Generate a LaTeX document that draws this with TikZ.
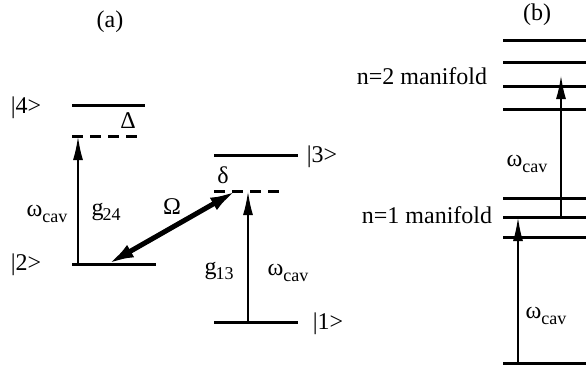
\documentclass[tikz,border=0pt]{standalone}
\usepackage{fontspec}
\setmainfont{Liberation Serif}
\usetikzlibrary{arrows.meta}
\newcommand{\lowsub}[1]{\raisebox{-0.5ex}{\fontsize{18}{18}\selectfont #1}}
\newcommand{\wcav}{ω\lowsub{cav}}
\tikzset{
  levelline/.style={line width=3pt},
  virtline/.style={line width=3pt, dash pattern=on 11pt off 7pt},
  pump/.style={line width=2.2pt, -{Latex[length=24pt,width=10pt]}},
  rabi/.style={line width=5pt, {Latex[length=26pt,width=14pt]}-{Latex[length=26pt,width=14pt]}},
  lbl/.style={font=\fontsize{24}{26}\selectfont, inner sep=0pt}
}
\begin{document}
\begin{tikzpicture}[x=1pt, y=-1pt]
  \useasboundingbox (0,0) rectangle (586,370);
  % panel (a)
  \node[lbl] (tagA) at (110,22) {(a)};
  \draw[levelline] (72,105) coordinate (l4w) -- (145,105) coordinate (l4e);
  \draw[virtline] (72,136) coordinate (v4w) -- (144,136) coordinate (v4e);
  \draw[levelline] (72,264) coordinate (l2w) -- (156,264) coordinate (l2e);
  \draw[levelline] (214,155) coordinate (l3w) -- (298,155) coordinate (l3e);
  \draw[virtline] (214,191) coordinate (v3w) -- (286,191) coordinate (v3e);
  \draw[levelline] (214,322) coordinate (l1w) -- (298,322) coordinate (l1e);
  \node[lbl] (ket4) at (26,108) {|4>};
  \node[lbl] (ket2) at (26,265) {|2>};
  \node[lbl] (ket3) at (322,157) {|3>};
  \node[lbl] (ket1) at (328,324) {|1>};
  \node[lbl] (detD) at (128,121) {Δ};
  \node[lbl] (detd) at (223,175) {δ};
  \coordinate (s2) at (78,264);
  \coordinate (e4) at (78,136);
  \draw[pump] (s2) -- (e4);
  \coordinate (s1) at (248,322);
  \coordinate (e3) at (248,191);
  \draw[pump] (s1) -- (e3);
  \coordinate (o2) at (108,264);
  \coordinate (o3) at (236,191);
  \draw[rabi] (o2) -- (o3);
  \node[lbl] (wA) at (47,214) {\wcav};
  \node[lbl] (g24) at (106,212) {g\kern-1pt\lowsub{24}};
  \node[lbl] (rab) at (172,207) {Ω};
  \node[lbl] (g13) at (219,271) {g\kern-1pt\lowsub{13}};
  \node[lbl] (wB) at (288,273) {\wcav};
  % panel (b)
  \node[lbl] (tagB) at (537,15) {(b)};
  \foreach \y [count=\i] in {40,62,86,109,198,217,237,363}
    \draw[levelline] (503,\y) coordinate (m\i w) -- (586,\y) coordinate (m\i e);
  \node[lbl] (man2) at (422,76) {n=2 manifold};
  \node[lbl] (man1) at (427,215) {n=1 manifold};
  \coordinate (b0) at (518,363);
  \coordinate (b1) at (518,217);
  \draw[pump] (b0) -- (b1);
  \coordinate (c1) at (561,217);
  \coordinate (c2) at (561,75);
  \draw[pump] (c1) -- (c2);
  \node[lbl] (wC) at (546,316) {\wcav};
  \node[lbl] (wD) at (527,164) {\wcav};
\end{tikzpicture}
\end{document}
